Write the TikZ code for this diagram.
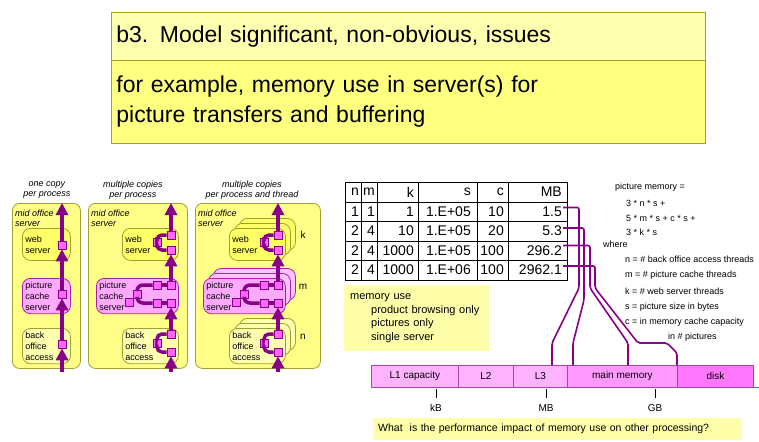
\documentclass[tikz,border=0pt]{standalone}
\usepackage{fontspec}
\setmainfont{Liberation Sans}
\usetikzlibrary{arrows.meta}

\definecolor{hdrlight}{HTML}{FFFFB0}
\definecolor{hdryellow}{HTML}{FFFF80}
\definecolor{olivebrd}{HTML}{A0A030}
\definecolor{boxyellow}{HTML}{FFFF88}
\definecolor{webyellow}{HTML}{FFFF66}
\definecolor{paleyellow}{HTML}{FFFFB0}
\definecolor{cachepink}{HTML}{FFAAFF}
\definecolor{cachecopy}{HTML}{FFC4FF}
\definecolor{cachebrd}{HTML}{AA22AA}
\definecolor{vpurple}{HTML}{880088}
\definecolor{sqpink}{HTML}{FF66FF}
\definecolor{barpink}{HTML}{FFB3FF}
\definecolor{mempink}{HTML}{FF99FF}
\definecolor{diskpink}{HTML}{FF77FF}
\definecolor{barbrd}{HTML}{AA44AA}
\definecolor{notebg}{HTML}{FFFFAA}

\begin{document}
\begin{tikzpicture}[x=1pt,y=-1pt,
    hdrbox/.style={draw=olivebrd, line width=0.8pt, anchor=north west,
        minimum width=594pt, text width=584pt, align=left, inner xsep=5pt},
    caption/.style={font={\fontsize{9}{10}\selectfont\itshape}, align=center},
    midlabel/.style={font={\fontsize{9}{10}\selectfont\itshape}, align=left,
        anchor=west, inner sep=0pt},
    server/.style={draw=olivebrd, fill=boxyellow, rounded corners=7pt,
        line width=0.8pt, anchor=north west, minimum height=165pt},
    srvbox/.style={anchor=north west, rounded corners=8pt, line width=0.8pt,
        minimum height=32pt, inner xsep=3pt, align=left,
        font={\fontsize{9}{11}\selectfont}},
    webbox/.style={srvbox, draw=olivebrd, fill=webyellow},
    backbox/.style={srvbox, draw=olivebrd, fill=paleyellow},
    cachebox/.style={srvbox, draw=cachebrd, fill=cachepink},
    sq/.style={draw=vpurple, fill=sqpink, minimum size=8pt, inner sep=0pt,
        line width=0.6pt},
    flow/.style={draw=vpurple, line width=3.2pt,
        -{Triangle[width=12pt,length=12pt]}},
    loopline/.style={draw=vpurple, line width=3.5pt, rounded corners=5pt},
    tabline/.style={line width=1pt},
    cell/.style={anchor=east, inner sep=0pt, font={\fontsize{14}{16}\selectfont}},
    memlink/.style={draw=vpurple, line width=1.6pt, rounded corners=2pt},
    formula/.style={anchor=west, inner sep=0pt, font={\fontsize{9}{10}\selectfont}},
    note/.style={fill=notebg, anchor=north west, align=left},
    seg/.style={draw=barbrd, line width=0.8pt, anchor=north west,
        minimum height=22pt, inner sep=0pt, font={\fontsize{10}{12}\selectfont}},
    unit/.style={inner sep=0pt, font={\fontsize{10}{12}\selectfont}},
    ]
    \useasboundingbox (0,0) rectangle (759,441);

    % Title
    \node[hdrbox, fill=hdrlight, minimum height=48pt,
        font={\fontsize{23}{28}\selectfont}] (head) at (111,12)
        {b3. Model significant, non-obvious, issues};
    \node[hdrbox, fill=hdryellow, minimum height=83pt,
        font={\fontsize{23}{30}\selectfont}] (sub) at (111,60)
        {for example, memory use in server(s) for\\picture transfers and buffering};

    % one copy per process
    \node[caption] (cap1) at (47,190) {one copy\\per process};
    \node[server, minimum width=68pt] (mid1) at (12,203) {};
    \node[midlabel] (mid1lbl) at (15,218) {mid office\\server};
    \node[webbox, text width=42pt] (web1) at (22,228) {web\\server};
    \node[cachebox, text width=42pt] (cache1) at (22,278) {picture\\cache\\server};
    \node[backbox, text width=42pt] (back1) at (22,328) {back\\office\\access};
    \node[sq] (w1) at (62,245) {};
    \node[sq] (c1) at (62,294) {};
    \node[sq] (b1) at (62,344) {};
    \coordinate (in1) at (62,372);
    \coordinate (out1) at (62,203);
    \draw[flow] (in1) -- (b1.south);
    \draw[flow] (b1.north) -- (c1.south);
    \draw[flow] (c1.north) -- (w1.south);
    \draw[flow] (w1.north) -- (out1);

    % multiple copies per process
    \node[caption] (cap2) at (133,190) {multiple copies\\per process};
    \node[server, minimum width=99pt] (mid2) at (88,203) {};
    \node[midlabel] (mid2lbl) at (91,218) {mid office\\server};
    \node[webbox, text width=50pt] (web2) at (122,228) {web\\server};
    \node[cachebox, text width=76pt] (cache2) at (96,278) {picture\\cache\\server};
    \node[backbox, text width=50pt] (back2) at (122,328) {back\\office\\access};

    % multiple copies per process and thread
    \node[caption] (cap3) at (252,190) {multiple copies\\per process and thread};
    \node[server, minimum width=125pt] (mid3) at (195,203) {};
    \node[midlabel] (mid3lbl) at (198,218) {mid office\\server};
    \node[webbox, minimum width=56pt] (web3c) at (239,218) {};
    \node[webbox, minimum width=56pt] (web3b) at (234,223) {};
    \node[webbox, text width=50pt] (web3) at (229,228) {web\\server};
    \node[cachebox, fill=cachecopy, minimum width=82pt] (cache3c) at (213,268) {};
    \node[cachebox, fill=cachecopy, minimum width=82pt] (cache3b) at (208,273) {};
    \node[cachebox, text width=76pt] (cache3) at (203,278) {picture\\cache\\server};
    \node[backbox, minimum width=56pt] (back3c) at (239,318) {};
    \node[backbox, minimum width=56pt] (back3b) at (234,323) {};
    \node[backbox, text width=50pt] (back3) at (229,328) {back\\office\\access};
    \node[unit] (k) at (303,235) {k};
    \node[unit] (m) at (303,287) {m};
    \node[unit] (n) at (303,337) {n};

    \foreach \dx/\p in {0/two, 107/three}{
    \begin{scope}[xshift=\dx pt]
        \node[sq] (\p-wt) at (171,235) {};
        \node[sq] (\p-wb) at (171,250) {};
        \node[sq] (\p-wl) at (157,242) {};
        \node[sq] (\p-ct) at (171,285) {};
        \node[sq] (\p-ctm) at (157,285) {};
        \node[sq] (\p-cb) at (171,303) {};
        \node[sq] (\p-cbm) at (157,303) {};
        \node[sq] (\p-cl) at (137,294) {};
        \node[sq] (\p-cl2) at (129,302) {};
        \node[sq] (\p-bt) at (171,334) {};
        \node[sq] (\p-bb) at (171,352) {};
        \node[sq] (\p-bl) at (157,343) {};
        % loops between copies
        \draw[loopline] (\p-wt.west) -| (\p-wl.north);
        \draw[loopline] (\p-wl.south) |- (\p-wb.west);
        \draw[loopline] (\p-ct.west) -- (\p-ctm.east);
        \draw[loopline, rounded corners=6pt] (\p-ctm.west) -| (\p-cl.north);
        \draw[loopline, rounded corners=6pt] (\p-cl.south) |- (\p-cbm.west);
        \draw[loopline] (\p-cbm.east) -- (\p-cb.west);
        \draw[loopline] (\p-bt.west) -| (\p-bl.north);
        \draw[loopline] (\p-bl.south) |- (\p-bb.west);
        % request flow
        \coordinate (\p-in) at (171,372);
        \coordinate (\p-out) at (171,203);
        \draw[flow] (\p-in) -- (\p-bb.south);
        \draw[flow] (\p-bt.north) -- (\p-cb.south);
        \draw[flow] (\p-ct.north) -- (\p-wb.south);
        \draw[flow] (\p-wt.north) -- (\p-out);
    \end{scope}
    }

    % Table
    \draw[tabline] (345,182) rectangle (567,280);
    \foreach \x in {361,377,418,477,508}
        \draw[tabline] (\x,182) -- (\x,280);
    \foreach \y in {202,221,241,260}
        \draw[tabline] (345,\y) -- (567,\y);
    \foreach \x/\t/\nm in {359/n/hn, 375/m/hm, 414/k/hk, 471/s/hs, 504/c/hc, 562/MB/hmb}
        \node[cell] (\nm) at (\x,192) {\t};
    \foreach \x/\t/\nm in {359/1/n1, 375/1/m1, 414/1/k1, 471/1.E+05/s1, 504/10/c1, 562/1.5/mb1}
        \node[cell] (\nm) at (\x,211.5) {\t};
    \foreach \x/\t/\nm in {359/2/n2, 375/4/m2, 414/10/k2, 471/1.E+05/s2, 504/20/c2, 562/5.3/mb2}
        \node[cell] (\nm) at (\x,231) {\t};
    \foreach \x/\t/\nm in {359/2/n3, 375/4/m3, 414/1000/k3, 471/1.E+05/s3, 504/100/c3, 562/296.2/mb3}
        \node[cell] (\nm) at (\x,250.5) {\t};
    \foreach \x/\t/\nm in {359/2/n4, 375/4/m4, 414/1000/k4, 471/1.E+06/s4, 504/100/c4, 562/2962.1/mb4}
        \node[cell] (\nm) at (\x,270) {\t};

    % memory use
    \node[note, minimum width=146pt, minimum height=66pt, text width=134pt,
        inner xsep=6pt, font={\fontsize{11}{13.5}\selectfont}] (use) at (344,285)
        {memory use\\\hspace*{21pt}product browsing only\\\hspace*{21pt}pictures only\\\hspace*{21pt}single server};

    % formula
    \node[formula] (pm) at (615,187) {picture memory =};
    \node[formula] (t1) at (626,203) {3 * n * s +};
    \node[formula] (t2) at (626,218) {5 * m * s + c * s +};
    \node[formula] (t3) at (626,232) {3 * k * s};
    \node[formula] (wh) at (603,244) {where};
    \node[formula] (dn) at (625,259) {n = \# back office access threads};
    \node[formula] (dm) at (625,275) {m = \# picture cache threads};
    \node[formula] (dk) at (625,291) {k = \# web server threads};
    \node[formula] (ds) at (625,307) {s = picture size in bytes};
    \node[formula] (dc) at (625,322) {c = in memory cache capacity};
    \node[formula] (dp) at (668,337) {in \# pictures};

    % memory levels
    \node[seg, fill=barpink, minimum width=87pt] (l1) at (371,365) {L1 capacity};
    \node[seg, fill=barpink, minimum width=55pt] (l2) at (458,365) {L2};
    \node[seg, fill=barpink, minimum width=54pt] (l3) at (513,365) {L3};
    \node[seg, fill=mempink, minimum width=110pt] (mainmem) at (567,365) {main memory};
    \node[seg, fill=diskpink, minimum width=76pt] (disk) at (677,365) {disk};
    \draw[barbrd, line width=0.8pt] (disk.south east) -- ++(6,0);
    \draw (436,389) -- (436,398);
    \draw (546,389) -- (546,398);
    \draw (655,389) -- (655,398);
    \node[unit] (kb) at (436,408) {kB};
    \node[unit] (mb) at (546,408) {MB};
    \node[unit] (gb) at (655,408) {GB};

    % table to memory levels
    \coordinate (e1) at (552,365);
    \coordinate (e2) at (573,365);
    \coordinate (e3) at (628,365);
    \coordinate (e4) at (677,365);
    \draw[memlink] (mb1.east) ++(1,-4) -| (579,288) -- (552,343) -- (e1);
    \draw[memlink] (mb2.east) ++(1,-3) -| (584,300) -- (573,343) -- (e2);
    \draw[memlink] (mb3.east) ++(1,-5) -| (590,288) -- (628,343) -- (e3);
    \draw[memlink] (mb4.east) ++(1,-4) -| (595,288) -- (638,343) -- (667,343) -- (677,353) -- (e4);

    % question
    \node[note, minimum width=369pt, minimum height=22pt, text width=359pt,
        inner xsep=5pt, font={\fontsize{10.5}{12}\selectfont}] (ask) at (373,418)
        {What\ \ is the performance impact of memory use on other processing?};

\end{tikzpicture}
\end{document}
